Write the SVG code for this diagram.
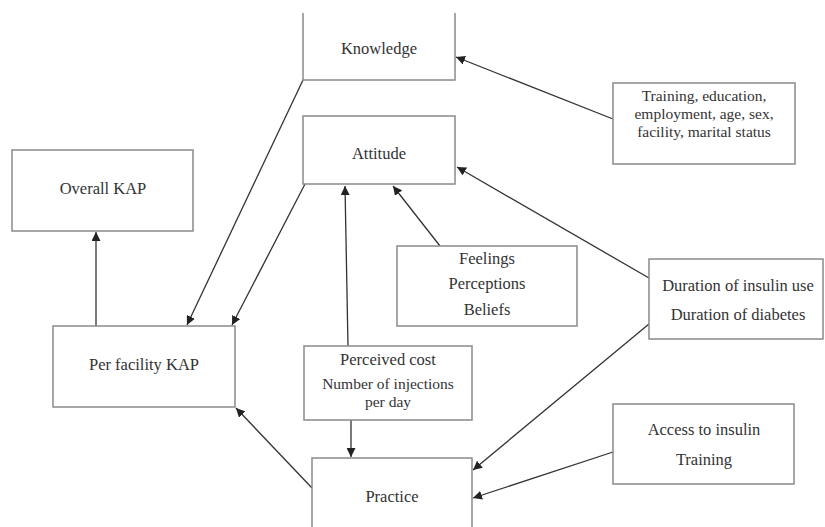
<svg xmlns="http://www.w3.org/2000/svg" width="825" height="527" viewBox="0 0 825 527">
<defs>
<marker id="ah" viewBox="0 0 10 10" refX="10" refY="5" markerWidth="9" markerHeight="9" markerUnits="userSpaceOnUse" orient="auto">
<path d="M0,0 L10,5 L0,10 z" fill="#222"/>
</marker>
<style>
.box{fill:#fff;stroke:#8a8a8a;stroke-width:1.5}
text{font-family:'Liberation Serif','Times New Roman','DejaVu Serif',serif;font-size:16.5px;fill:#333;text-anchor:middle}
text.s{font-size:15.5px}
.c{stroke:#333;stroke-width:1.3;fill:none;marker-end:url(#ah)}
</style>
</defs>
<rect width="825" height="527" fill="#fff"/>
<g id="connectors">
<line class="c" x1="613" y1="119" x2="456" y2="57"/>
<line class="c" x1="303" y1="80" x2="187" y2="325"/>
<line class="c" x1="305" y1="184" x2="232" y2="325"/>
<line class="c" x1="96" y1="326" x2="96" y2="232"/>
<line class="c" x1="440" y1="246" x2="393" y2="186"/>
<line class="c" x1="348" y1="346" x2="345" y2="186"/>
<line class="c" x1="649" y1="278" x2="457" y2="167"/>
<line class="c" x1="351" y1="420" x2="351" y2="457"/>
<line class="c" x1="312" y1="488" x2="236" y2="408"/>
<line class="c" x1="649" y1="324" x2="473" y2="470"/>
<line class="c" x1="613" y1="452" x2="473" y2="498"/>
</g>
<g id="knowledge">
<path d="M303,13 V80 H455 V13" fill="#fff" stroke="#8a8a8a" stroke-width="1.5"/>
<text x="379" y="54">Knowledge</text>
</g>
<g id="factors-knowledge">
<rect class="box" x="613" y="83" width="182" height="81"/>
<text class="s" x="704" y="101">Training, education,</text>
<text class="s" x="704" y="119">employment, age, sex,</text>
<text class="s" x="704" y="137">facility, marital status</text>
</g>
<g id="overall-kap">
<rect class="box" x="12" y="150" width="181" height="81"/>
<text x="103" y="194">Overall KAP</text>
</g>
<g id="attitude">
<rect class="box" x="303" y="116" width="152" height="68"/>
<text x="379" y="159">Attitude</text>
</g>
<g id="feelings">
<rect class="box" x="397" y="246" width="180" height="80"/>
<text x="487" y="264">Feelings</text>
<text x="487" y="289">Perceptions</text>
<text x="487" y="315">Beliefs</text>
</g>
<g id="duration">
<rect class="box" x="649" y="259" width="174" height="80"/>
<text x="738" y="291">Duration of insulin use</text>
<text x="738" y="320">Duration of diabetes</text>
</g>
<g id="per-facility-kap">
<rect class="box" x="53" y="326" width="182" height="81"/>
<text x="144" y="370">Per facility KAP</text>
</g>
<g id="cost">
<rect class="box" x="304" y="346" width="168" height="74"/>
<text x="388" y="365">Perceived cost</text>
<text class="s" x="388" y="389">Number of injections</text>
<text class="s" x="388" y="407">per day</text>
</g>
<g id="practice">
<rect class="box" x="312" y="458" width="160" height="80"/>
<text x="392" y="502">Practice</text>
</g>
<g id="access">
<rect class="box" x="613" y="404" width="181" height="80"/>
<text x="704" y="435">Access to insulin</text>
<text x="704" y="465">Training</text>
</g>
</svg>
